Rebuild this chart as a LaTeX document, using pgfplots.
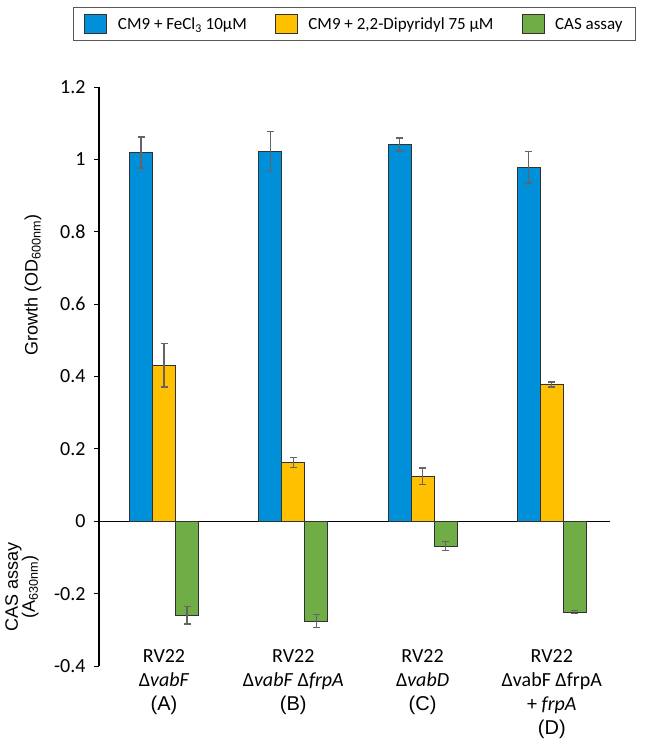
\documentclass[border=0pt]{standalone}
\usepackage{pgfplots}
\pgfplotsset{compat=1.18}
\usepackage{fontspec}
\setmainfont{Carlito}
\newfontfamily\arialfont{Liberation Sans}

\definecolor{cblue}{RGB}{0,144,218}
\definecolor{cyellow}{RGB}{255,192,0}
\definecolor{cgreen}{RGB}{112,173,71}
\definecolor{cedge}{RGB}{50,50,50}
\definecolor{cerr}{RGB}{100,100,100}

% x = strain group, y = mean, e = error
\pgfplotstableread{
x y e
0 1.019 0.043
1 1.022 0.055
2 1.041 0.018
3 0.978 0.043
}\fecl
\pgfplotstableread{
x y e
0 0.431 0.060
1 0.163 0.014
2 0.124 0.023
3 0.378 0.007
}\dipy
\pgfplotstableread{
x y e
0 -0.260 0.024
1 -0.276 0.018
2 -0.069 0.012
3 -0.251 0.005
}\cas

\begin{document}
\begin{tikzpicture}
\path[use as bounding box] (0,0) rectangle (645pt,-742pt);
\begin{axis}[
  at={(99pt,-666pt)}, anchor=south west,
  width=511pt, height=579pt, scale only axis,
  ybar=0pt, bar width=23pt,
  xmin=-0.503, xmax=3.45,
  ymin=-0.4, ymax=1.2,
  axis y line=left, axis x line=bottom,
  axis line style={-, black, line width=1.2pt},
  x axis line style={draw=none},
  xtick={0,1,2,3},
  xtick style={draw=none},
  xticklabels={
    {RV22\\Δ\textit{vabF}\\{\arialfont (A)}},
    {RV22\\Δ\textit{vabF} Δ\textit{frpA}\\{\arialfont (B)}},
    {RV22\\Δ\textit{vabD}\\{\arialfont (C)}},
    {RV22\\ΔvabF ΔfrpA\\+ \textit{frpA}\\{\arialfont (D)}}},
  xticklabel style={font=\fontsize{20}{24}\selectfont, align=center,
    anchor=north, inner sep=1pt, yshift=23pt},
  ytick={-0.4,-0.2,0,0.2,0.4,0.6,0.8,1,1.2},
  yticklabels={-0.4,-0.2,0,0.2,0.4,0.6,0.8,1,1.2},
  yticklabel style={font=\fontsize{20}{22}\selectfont, xshift=-5pt},
  tick align=outside,
  major tick length=5pt,
  ytick style={black, line width=1pt},
  extra y ticks={0},
  extra y tick labels={},
  extra y tick style={grid=major, major grid style={black, line width=1.3pt}, tick style={draw=none}},
  legend style={at={(0.5,1.109)}, anchor=center, legend columns=3,
    draw=black!65, line width=0.8pt, font=\fontsize{17}{20}\selectfont,
    inner xsep=11pt, inner ysep=7pt,
    /tikz/every odd column/.append style={column sep=9pt},
    /tikz/every even column/.append style={column sep=26pt}},
  legend image code/.code={\draw[#1, line width=0.6pt] (0pt,-9pt) rectangle (22pt,10pt);},
  error bars/y dir=both, error bars/y explicit,
  error bars/error bar style={cerr, line width=1.2pt},
  error bars/error mark options={rotate=90, mark size=3.5pt, cerr, line width=1.2pt},
]
\addplot[fill=cblue, draw=cedge, line width=0.6pt] table[x=x, y=y, y error=e] {\fecl};
\addlegendentry{CM9 + FeCl\textsubscript{3} 10µM}
\addplot[fill=cyellow, draw=cedge, line width=0.6pt] table[x=x, y=y, y error=e] {\dipy};
\addlegendentry{CM9 + 2,2-Dipyridyl 75 µM}
\addplot[fill=cgreen, draw=cedge, line width=0.6pt] table[x=x, y=y, y error=e] {\cas};
\addlegendentry{CAS assay}
\end{axis}
\node[rotate=90, font=\arialfont\fontsize{18}{20}\selectfont] at (33pt,-285pt) {Growth (OD\textsubscript{600nm})};
\node[rotate=90, align=center, font=\arialfont\fontsize{18}{17}\selectfont] at (22pt,-587pt) {CAS assay\\(A\textsubscript{630nm})};
\end{tikzpicture}
\end{document}
